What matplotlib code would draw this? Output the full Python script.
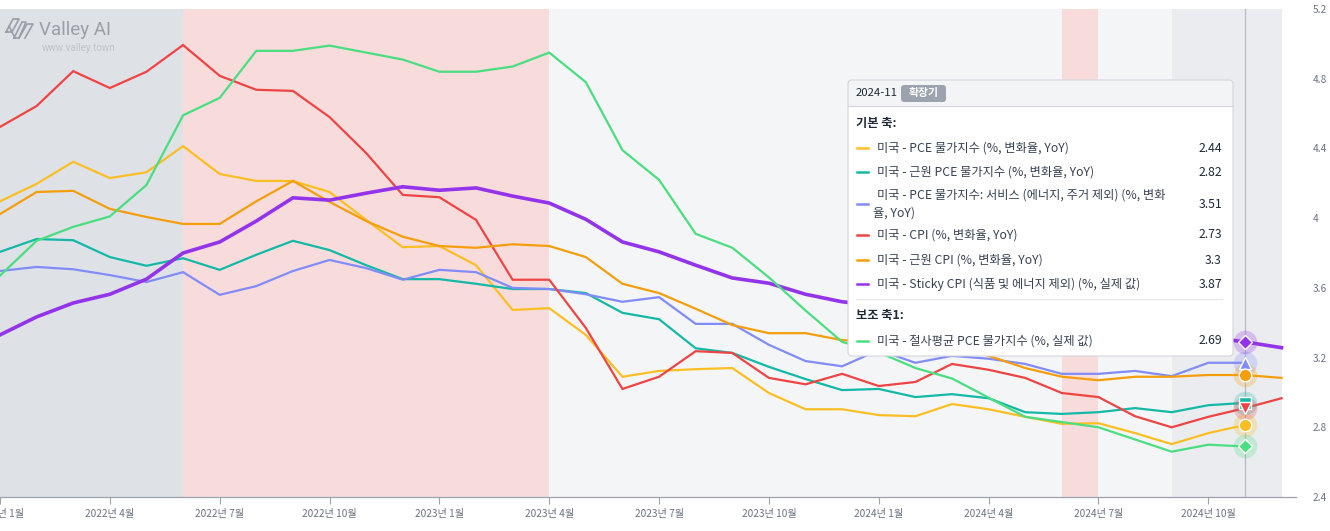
import numpy as np
import pandas as pd
import matplotlib
matplotlib.use('Agg')
import matplotlib.pyplot as plt
from matplotlib.patches import FancyBboxPatch, Rectangle
from matplotlib.lines import Line2D
from matplotlib.transforms import IdentityTransform

plt.rcParams['font.family'] = ['Noto Sans CJK KR', 'DejaVu Sans']

W, H = 1330, 531

# monthly data, 2022-01 .. 2024-12 (PCE-based series stop at 2024-11)
months = pd.date_range('2022-01-01', '2024-12-01', freq='MS')

pce = [6.29, 6.59, 6.97, 6.69, 6.79, 7.24, 6.76, 6.64, 6.64, 6.45, 5.97, 5.50,
       5.52, 5.19, 4.42, 4.45, 3.99, 3.27, 3.37, 3.40, 3.42, 2.99, 2.71, 2.71,
       2.61, 2.59, 2.80, 2.71, 2.58, 2.46, 2.47, 2.30, 2.11, 2.30, 2.44]
core_pce = [5.42, 5.64, 5.62, 5.33, 5.18, 5.31, 5.11, 5.37, 5.61, 5.45, 5.19, 4.95,
            4.95, 4.87, 4.78, 4.78, 4.71, 4.37, 4.26, 3.76, 3.68, 3.44, 3.23, 3.04,
            3.06, 2.92, 2.97, 2.90, 2.66, 2.63, 2.66, 2.73, 2.66, 2.78, 2.82]
supercore = [5.09, 5.16, 5.12, 5.02, 4.90, 5.07, 4.68, 4.83, 5.09, 5.28, 5.14, 4.94,
             5.11, 5.07, 4.80, 4.78, 4.69, 4.56, 4.64, 4.18, 4.18, 3.82, 3.54, 3.45,
             3.73, 3.51, 3.63, 3.58, 3.49, 3.32, 3.32, 3.37, 3.28, 3.51, 3.51]
cpi = [7.57, 7.93, 8.53, 8.24, 8.52, 8.98, 8.45, 8.21, 8.19, 7.74, 7.12, 6.40,
       6.36, 5.97, 4.94, 4.94, 4.11, 3.06, 3.27, 3.71, 3.68, 3.25, 3.14, 3.32,
       3.11, 3.18, 3.49, 3.39, 3.25, 2.99, 2.92, 2.59, 2.40, 2.58, 2.73, 2.90]
core_cpi = [6.07, 6.45, 6.47, 6.16, 6.02, 5.90, 5.90, 6.29, 6.64, 6.28, 5.95, 5.68,
            5.52, 5.49, 5.55, 5.52, 5.33, 4.87, 4.71, 4.44, 4.16, 4.02, 4.02, 3.90,
            3.87, 3.80, 3.80, 3.63, 3.42, 3.27, 3.21, 3.27, 3.27, 3.30, 3.30, 3.25]
sticky = [3.99, 4.30, 4.54, 4.69, 4.95, 5.40, 5.59, 5.95, 6.35, 6.31, 6.43, 6.54,
          6.48, 6.52, 6.38, 6.26, 5.98, 5.59, 5.42, 5.19, 4.97, 4.88, 4.69, 4.56,
          4.50, 4.45, 4.40, 4.35, 4.25, 4.15, 4.10, 4.05, 4.00, 3.95, 3.87, 3.77]
# secondary axis
trimmed = [3.67, 3.87, 3.95, 4.01, 4.19, 4.59, 4.69, 4.96, 4.96, 4.99, 4.95, 4.91,
           4.84, 4.84, 4.87, 4.95, 4.78, 4.39, 4.22, 3.91, 3.83, 3.66, 3.47, 3.29,
           3.23, 3.14, 3.08, 2.97, 2.86, 2.83, 2.80, 2.73, 2.66, 2.70, 2.69]

# business-cycle bands
band_start = ['2021-12', '2022-06', '2023-04', '2024-06', '2024-07', '2024-09']
band_end = ['2022-06', '2023-04', '2024-06', '2024-07', '2024-09', '2024-12']
band_colors = ['#dee1e6', '#f8dcdc', '#f4f5f7', '#f8dcdc', '#f4f5f7', '#ebecf0']

hover_month = '2024-11'

series = [
    ('미국 - PCE 물가지수 (%, 변화율, YoY)', pce, '#fbbf24', 'o', 1.6),
    ('미국 - 근원 PCE 물가지수 (%, 변화율, YoY)', core_pce, '#14b8a6', 's', 1.6),
    ('미국 - PCE 물가지수: 서비스 (에너지, 주거 제외) (%, 변화\n율, YoY)', supercore, '#818cf8', '^', 1.6),
    ('미국 - CPI (%, 변화율, YoY)', cpi, '#ef4444', 'v', 1.6),
    ('미국 - 근원 CPI (%, 변화율, YoY)', core_cpi, '#f59e0b', 'o', 1.6),
    ('미국 - Sticky CPI (식품 및 에너지 제외) (%, 실제 값)', sticky, '#9333ea', 'D', 2.6),
]
sec_series = ('미국 - 절사평균 PCE 물가지수 (%, 실제 값)', trimmed, '#4ade80', 'D', 1.6)


def mpos(s):
    d = pd.Timestamp(s + '-01')
    return (d.year - 2022) * 12 + d.month - 1


fig = plt.figure(figsize=(W / 100, H / 100), dpi=100)
ax = fig.add_axes([0, 34 / H, 1296 / W, 488 / H])
ax.set_facecolor('white')

for s, e, c in zip(band_start, band_end, band_colors):
    ax.axvspan(mpos(s), mpos(e), color=c, lw=0, zorder=0)

hx = mpos(hover_month)
ax.axvline(hx, color='#b8bcc4', lw=0.9, zorder=1)

for name, vals, color, mk, lw in series:
    x = np.arange(len(vals))
    ax.plot(x, vals, color=color, lw=lw, zorder=3 if lw > 2 else 2, solid_joinstyle='miter')

ax.set_xlim(3 / 36.7, 1299 / 36.7)
ax.set_ylim(1.2, 9.6)
ax.set_yticks([])
for sp in ['top', 'left', 'right']:
    ax.spines[sp].set_visible(False)
ax.spines['bottom'].set_color('#9ca3af')
ax.spines['bottom'].set_linewidth(0.9)
tick_pos = np.arange(0, len(months), 3)
ax.set_xticks(tick_pos)
ax.set_xticklabels([f'{d.year}년 {d.month}월' for d in months[::3]])
ax.tick_params(axis='x', length=5, color='#9ca3af', labelcolor='#6b7280',
               labelsize=7.3, pad=4)

ax2 = ax.twinx()
ax2.set_ylim(2.4, 5.2)
ax2.set_yticks(np.arange(2.4, 5.21, 0.4))
ax2.set_yticklabels([f'{v:g}' for v in np.round(np.arange(2.4, 5.21, 0.4), 1)])
ax2.tick_params(axis='y', length=0, pad=12, labelsize=7.3, labelcolor='#6b7280')
for sp in ax2.spines.values():
    sp.set_visible(False)
name2, vals2, color2, mk2, lw2 = sec_series
ax2.plot(np.arange(len(vals2)), vals2, color=color2, lw=lw2, zorder=2)

# hover markers
for name, vals, color, mk, lw in series:
    ax.plot(hx, vals[hx], 'o', ms=17, color=color, alpha=0.25, mec='none', zorder=4)
for name, vals, color, mk, lw in series:
    ms = 7 if mk == 'D' else 9
    ax.plot(hx, vals[hx], mk, ms=ms, color=color, mec='white', mew=1.0, zorder=5)
ax2.plot(hx, vals2[hx], 'o', ms=17, color=color2, alpha=0.25, mec='none', zorder=4)
ax2.plot(hx, vals2[hx], mk2, ms=7, color=color2, mec='white', mew=1.0, zorder=5)

# watermark
fig.text(39 / W, 1 - 30 / H, 'Valley AI', fontsize=13.5, color='#9a9ea7',
         family=['Roboto', 'DejaVu Sans'], va='center', ha='left')
fig.text(42 / W, 1 - 48 / H, 'www.valley.town', fontsize=7, color='#bfc3ca',
         family=['Roboto', 'DejaVu Sans'], va='center', ha='left')
logo = [[(6, 32), (13, 19), (19, 19), (12, 32), (6, 32)],
        [(14, 38), (22, 22), (26, 22), (19, 38), (14, 38)],
        [(19, 38), (27, 24), (33, 24), (25, 38)],
        [(9, 26), (15, 38)]]
for pts in logo:
    xs = [p[0] / W for p in pts]
    ys = [1 - p[1] / H for p in pts]
    fig.add_artist(Line2D(xs, ys, color='#9a9ea7', lw=1.2, transform=fig.transFigure))

# tooltip (pixel coordinates, y from top)
T = IdentityTransform()


def Y(y):
    return H - y


FS = 8.8
bx0, by0, bx1, by1 = 848, 80, 1233, 356
fig.add_artist(FancyBboxPatch((bx0, Y(by1)), bx1 - bx0, by1 - by0,
                              boxstyle='round,pad=0,rounding_size=4',
                              fc='white', ec='none', transform=T, zorder=10))
fig.add_artist(FancyBboxPatch((bx0, Y(110)), bx1 - bx0, 30,
                              boxstyle='round,pad=0,rounding_size=4',
                              fc='#f3f4f6', ec='none', transform=T, zorder=10))
fig.add_artist(Rectangle((bx0, Y(112)), bx1 - bx0, 6, fc='white', ec='none',
                         transform=T, zorder=10))
fig.add_artist(Line2D([bx0, bx1], [Y(106), Y(106)], color='#d1d5db', lw=0.8,
                      transform=T, zorder=11))
fig.add_artist(FancyBboxPatch((bx0, Y(by1)), bx1 - bx0, by1 - by0,
                              boxstyle='round,pad=0,rounding_size=4',
                              fc='none', ec='#d1d5db', lw=0.8, transform=T, zorder=11))

txt_kw = dict(transform=T, zorder=12, va='center')
fig.text(856, Y(93.5), hover_month, fontsize=8.2, color='#1f2937', ha='left', **txt_kw)
fig.add_artist(FancyBboxPatch((901, Y(102)), 45, 17,
                              boxstyle='round,pad=0,rounding_size=3',
                              fc='#9ca3af', ec='none', transform=T, zorder=11))
fig.text(923.5, Y(93), '확장기', fontsize=7.8, color='white', fontweight='bold',
         ha='center', **txt_kw)

fig.text(856, Y(124), '기본 축:', fontsize=FS, color='#1f2937', fontweight='bold',
         ha='left', **txt_kw)
row_y = [148, 172, 204, 235, 260, 284]
for (name, vals, color, mk, lw), ry in zip(series, row_y):
    fig.add_artist(Line2D([857, 868], [Y(ry), Y(ry)], color=color, lw=1.8,
                          transform=T, zorder=12))
    if '\n' in name:
        first, second = name.split('\n')
        fig.text(877, Y(ry - 9), first, fontsize=FS, color='#374151', ha='left', **txt_kw)
        fig.text(873, Y(ry + 9), second, fontsize=FS, color='#374151', ha='left', **txt_kw)
    else:
        fig.text(877, Y(ry), name, fontsize=FS, color='#374151', ha='left', **txt_kw)
    fig.text(1222, Y(ry), f'{vals[hx]:g}', fontsize=FS, color='#1f2937', ha='right', **txt_kw)

fig.add_artist(Line2D([856, 1222], [Y(299), Y(299)], color='#e5e7eb', lw=0.8,
                      transform=T, zorder=12))
fig.text(856, Y(316), '보조 축1:', fontsize=FS, color='#1f2937', fontweight='bold',
         ha='left', **txt_kw)
fig.add_artist(Line2D([857, 868], [Y(341), Y(341)], color=color2, lw=1.8,
                      transform=T, zorder=12))
fig.text(877, Y(341), name2, fontsize=FS, color='#374151', ha='left', **txt_kw)
fig.text(1222, Y(341), f'{vals2[hx]:g}', fontsize=FS, color='#1f2937', ha='right', **txt_kw)

fig.savefig('out.png', dpi=100)
